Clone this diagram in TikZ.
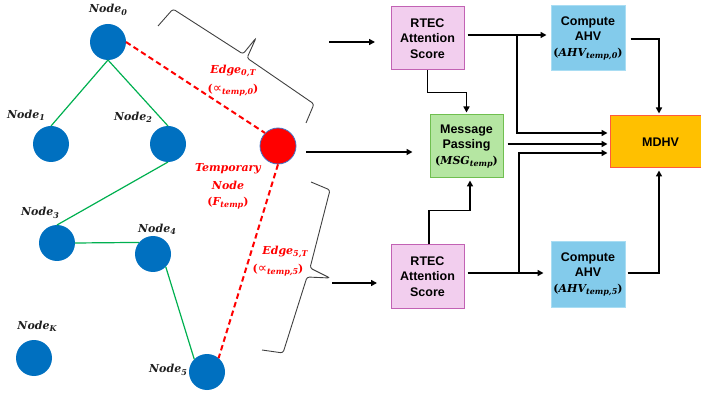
\documentclass[tikz,border=0pt]{standalone}
\usepackage{fontspec}
\usetikzlibrary{arrows.meta,calc}
\newfontfamily\boxfont{Liberation Sans}
\newfontfamily\lblfont{DejaVu Serif}
\newfontfamily\symfont{DejaVu Sans}

% bold italic variable with a lowered subscript
\newcommand\lsub[1]{\raisebox{-0.4ex}{\fontsize{8}{9}\selectfont #1}}
\newcommand\mvar[2]{{\lblfont\bfseries\itshape #1\lsub{#2}}}
\newcommand\propsym{{\symfont\fontsize{13}{13}\selectfont\mdseries\upshape ∝}}

\definecolor{nodeblue}{HTML}{0070C0}
\definecolor{rimblue}{HTML}{4472C4}
\definecolor{treegreen}{HTML}{00B050}
\definecolor{labelgray}{HTML}{1F1F1F}
\definecolor{rtecfill}{HTML}{F2CEEE}
\definecolor{rtecdraw}{HTML}{C262B4}
\definecolor{ahvfill}{HTML}{83CBEB}
\definecolor{ahvdraw}{HTML}{A9DDF3}
\definecolor{mpfill}{HTML}{B5E6A2}
\definecolor{mpdraw}{HTML}{70BF50}
\definecolor{mdhvfill}{HTML}{FFC000}
\definecolor{mdhvdraw}{HTML}{FF5A3C}

\tikzset{
  graphnode/.style={circle, fill=nodeblue, line width=0pt,
    minimum size=36pt, inner sep=0pt},
  tempnode/.style={circle, fill=red, draw=rimblue, line width=0.8pt,
    minimum size=36pt, inner sep=0pt},
  nlabel/.style={text=labelgray, font=\lblfont\fontsize{11}{13}\selectfont\bfseries\itshape, inner sep=0pt},
  rlabel/.style={text=red, font=\lblfont\fontsize{11}{13}\selectfont\bfseries\itshape, inner sep=0pt},
  tree/.style={draw=treegreen, line width=1.2pt},
  tlink/.style={draw=red, dash pattern=on 5.5pt off 3.5pt, line width=2pt},
  blockbox/.style={draw, line width=1pt, minimum width=73pt, minimum height=63pt,
    inner sep=1pt, align=center,
    font=\boxfont\fontsize{12.5}{15.5}\selectfont\bfseries},
  rtecbox/.style={blockbox, fill=rtecfill, draw=rtecdraw},
  ahvbox/.style={blockbox, fill=ahvfill, draw=ahvdraw, minimum width=74pt, minimum height=65pt},
  mpbox/.style={blockbox, fill=mpfill, draw=mpdraw},
  mdhvbox/.style={blockbox, fill=mdhvfill, draw=mdhvdraw, minimum width=101pt, minimum height=52pt},
  flow/.style={draw=black, line width=1.6pt, -{Triangle[length=6pt,width=6pt]}},
  bracket/.style={draw=black!75, line width=0.9pt, rounded corners=2.5pt},
}

\begin{document}
\begin{tikzpicture}[x=1pt,y=-1pt]
\useasboundingbox (0,0) rectangle (701,395);

% ---------- graph ----------
\node[graphnode] (n0) at (108,42) {};
\node[graphnode] (n1) at (51,144) {};
\node[graphnode] (n2) at (168,144) {};
\node[graphnode] (n3) at (57,243) {};
\node[graphnode] (n4) at (153,254) {};
\node[graphnode] (nK) at (34,358) {};
\node[graphnode] (n5) at (207,372) {};
\node[tempnode]  (tmp) at (278,146) {};

\node[nlabel] (l0) at (108,10) {\mvar{Node}{0}};
\node[nlabel] (l1) at (26,115) {\mvar{Node}{1}};
\node[nlabel] (l2) at (133,117) {\mvar{Node}{2}};
\node[nlabel] (l3) at (40,213) {\mvar{Node}{3}};
\node[nlabel] (l4) at (157,229) {\mvar{Node}{4}};
\node[nlabel] (lK) at (37,326) {\mvar{Node}{K}};
\node[nlabel] (l5) at (168,370) {\mvar{Node}{5}};

\draw[tree] (n0.south) -- (n1.north);
\draw[tree] (n0.south) -- (n2.north);
\draw[tree] (n2.south) -- (n3.north);
\draw[tree] (n3.east) -- (n4.140);
\draw[tree] (n4.-45) -- (n5.135);

\draw[tlink] (n0.east) -- (tmp.135);
\draw[tlink] (tmp.south) -- (n5.50);

\node[rlabel] (e0a) at (233,71) {\mvar{Edge}{0,T}};
\node[rlabel] (e0b) at (233,90) {{\upshape(}\propsym\lsub{temp,0}{\upshape)}};
\node[rlabel] (e5a) at (285,252) {\mvar{Edge}{5,T}};
\node[rlabel] (e5b) at (278,270) {{\upshape(}\propsym\lsub{temp,5}{\upshape)}};
\node[rlabel] (t1) at (228,169) {Temporary};
\node[rlabel] (t2) at (228,185) {Node};
\node[rlabel] (t3) at (228,203) {{\upshape(}\mvar{F}{temp}{\upshape)}};

% ---------- braces ----------
\draw[bracket] (158,26) -- (173,9) -- (243,54) -- (256,38) -- (247,58)
  -- (314,104) -- (306,123);
\draw[bracket] (311,182) -- (330,190) -- (310,268) -- (330,278) -- (307,277)
  -- (283,353) -- (262,350);

% ---------- pipeline ----------
\node[rtecbox] (rtecA) at (427.5,38.5) {RTEC\\Attention\\Score};
\node[rtecbox] (rtecB) at (427.5,276.5) {RTEC\\Attention\\Score};
\node[ahvbox]  (compA) at (588,38.5)
  {Compute\\AHV\\{\lblfont\fontsize{11}{13}\selectfont(\mvar{AHV}{temp,0})}};
\node[ahvbox]  (compB) at (588,274.5)
  {Compute\\AHV\\{\lblfont\fontsize{11}{13}\selectfont(\mvar{AHV}{temp,5})}};
\node[mpbox]   (mp) at (466.5,146.5)
  {Message\\Passing\\{\lblfont\fontsize{11}{13}\selectfont(\mvar{MSG}{temp})}};
\node[mdhvbox] (mdhv) at (660.5,142) {MDHV};

\coordinate (inAs) at (329,42);
\coordinate (inAe) at (375,42);
\coordinate (inBs) at (332,283);
\coordinate (inBe) at (377,283);
\draw[flow] (inAs) -- (inAe);
\draw[flow] (inBs) -- (inBe);
\draw[flow] ($(tmp.east)+(10,6)$) -- ($(mp.west)+(-17,5.5)$);

\draw[flow] ($(rtecA.east)+(3,-3.5)$) -- ($(compA.west)+(-4,-3.5)$);
\coordinate (jA) at (517,35);
\draw[flow] (jA) |- ($(mdhv.west)+(-2,-9)$);
\draw[flow] (rtecA.south) -- ++(0,22) -| ($(mp.north)+(0,-2)$);
\draw[flow] ($(mp.east)+(4,-2.5)$) -- ($(mdhv.west)+(-2,2)$);

\draw[flow] ($(rtecB.east)+(3,-3.5)$) -- ($(compB.west)+(-7,-1.5)$);
\coordinate (jB) at (519,273);
\draw[flow] (jB) |- ($(mdhv.west)+(-2,11)$);
\draw[flow] ($(rtecB.north)+(1.5,0)$) -- ++(0,-34) -| ($(mp.south)+(3.5,2)$);

\draw[flow] ($(compA.east)+(5,0.5)$) -| ($(mdhv.north)+(-1.5,-2)$);
\draw[flow] ($(compB.east)+(2,-1.5)$) -| ($(mdhv.south)+(-1.5,2)$);
\end{tikzpicture}
\end{document}
